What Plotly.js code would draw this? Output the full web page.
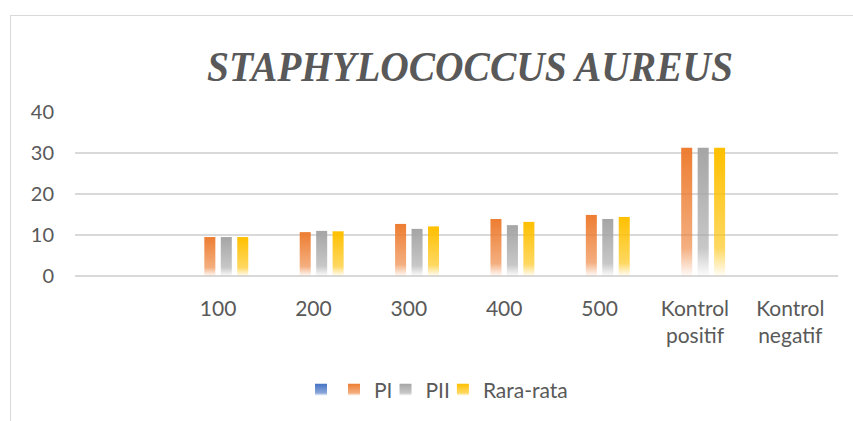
<!DOCTYPE html>
<html>
<head>
<meta charset="utf-8">
<script src="https://cdn.plot.ly/plotly-3.0.1.min.js"></script>
<style>
  html, body { margin: 0; padding: 0; background: #ffffff; }
  #wrap { position: relative; width: 853px; height: 421px; overflow: hidden; }
  #frame { position: absolute; left: 10px; top: 15px; width: 1000px; height: 600px;
           border-left: 1.5px solid #d9d9d9; border-top: 1.5px solid #d9d9d9; }
  #chart { position: absolute; left: 0; top: 0; width: 853px; height: 421px; }
</style>
</head>
<body>
<div id="wrap">
  <div id="frame"></div>
  <div id="chart"></div>
</div>
<script>
// ---- data ----
const categories = [' ', '100', '200', '300', '400', '500', 'Kontrol<br>positif', 'Kontrol<br>negatif'];
const seriesBlue = [0, 0, 0, 0, 0, 0, 0, 0];
const seriesPI   = [0, 9.5, 10.7, 12.7, 13.9, 14.9, 31.3, 0];
const seriesPII  = [0, 9.5, 11.0, 11.5, 12.4, 13.9, 31.3, 0];
const seriesRata = [0, 9.5, 10.9, 12.1, 13.2, 14.4, 31.3, 0];
const seriesNames = ['', 'PI', 'PII', 'Rara-rata'];
const yTicks = [0, 10, 20, 30, 40];
const chartTitle = 'STAPHYLOCOCCUS AUREUS';

// ---- styling ----
const colors = ['#4472C4', '#ED7D31', '#A5A5A5', '#FFC000'];
const textColor = '#595959';
const gridColor = '#d9d9d9';
const titleFamily = 'Liberation Serif';
const titleTargetWidth = 526;

const allSeries = [seriesBlue, seriesPI, seriesPII, seriesRata];
const traces = allSeries.map((vals, i) => ({
  type: 'bar',
  x: categories,
  y: vals,
  name: seriesNames[i],
  marker: { color: colors[i], line: { width: 0 } },
  hoverinfo: 'skip'
}));

const layout = {
  width: 853,
  height: 421,
  paper_bgcolor: 'rgba(0,0,0,0)',
  plot_bgcolor: 'rgba(0,0,0,0)',
  margin: { l: 75, r: 15, t: 112, b: 145 },
  barmode: 'group',
  bargap: 0.31,
  bargroupgap: 0.33,
  title: {
    text: chartTitle,
    font: { family: titleFamily, size: 42, color: textColor, weight: 'bold', style: 'italic' },
    x: 470 / 853, xref: 'container', xanchor: 'center',
    y: 1 - 66 / 421, yref: 'container', yanchor: 'middle'
  },
  xaxis: {
    type: 'category',
    showgrid: false,
    showline: false,
    zeroline: false,
    ticks: '',
    ticklabelstandoff: 18,
    tickfont: { family: 'Lato, "Open Sans", sans-serif', size: 21, color: textColor },
    fixedrange: true
  },
  yaxis: {
    range: [0, 40],
    tickvals: yTicks,
    ticktext: yTicks.map(String),
    showgrid: true,
    gridcolor: gridColor,
    gridwidth: 1.3,
    zeroline: true,
    zerolinecolor: gridColor,
    zerolinewidth: 1.6,
    showline: false,
    ticks: '',
    ticklabelstandoff: 20,
    tickfont: { family: 'Lato, "Open Sans", sans-serif', size: 20, color: textColor },
    fixedrange: true
  },
  showlegend: true,
  legend: {
    orientation: 'h',
    x: 443 / 853, xref: 'container', xanchor: 'center',
    y: 1 - 390 / 421, yref: 'container', yanchor: 'middle',
    itemgap: 0,
    indentation: -12,
    traceorder: 'normal',
    font: { family: 'Lato, "Open Sans", sans-serif', size: 21, color: textColor }
  }
};

function addGradients(gd) {
  const svg = gd.querySelector('svg.main-svg');
  const NS = 'http://www.w3.org/2000/svg';
  let defs = svg.querySelector('defs');
  if (!defs) { defs = document.createElementNS(NS, 'defs'); svg.insertBefore(defs, svg.firstChild); }
  colors.forEach((c, i) => {
    const lg = document.createElementNS(NS, 'linearGradient');
    lg.setAttribute('id', 'barGrad' + i);
    lg.setAttribute('x1', '0'); lg.setAttribute('y1', '0');
    lg.setAttribute('x2', '0'); lg.setAttribute('y2', '1');
    [[0, 1], [0.78, 0.62], [1, 0.03]].forEach(([o, op]) => {
      const s = document.createElementNS(NS, 'stop');
      s.setAttribute('offset', String(o));
      s.setAttribute('stop-color', c);
      s.setAttribute('stop-opacity', String(op));
      lg.appendChild(s);
    });
    defs.appendChild(lg);
  });
  gd.querySelectorAll('.barlayer .trace').forEach((t, i) => {
    t.querySelectorAll('path').forEach(p => { p.style.fill = 'url(#barGrad' + i + ')'; p.style.fillOpacity = 1; });
  });
  gd.querySelectorAll('.legend .traces').forEach((t, i) => {
    t.querySelectorAll('.legendpoints path').forEach(p => { p.style.fill = 'url(#barGrad' + i + ')'; p.style.fillOpacity = 1; });
  });
  // make sure the title uses the serif face, then condense it like the reference
  const tt = gd.querySelector('.g-gtitle text');
  if (tt) {
    tt.style.fontFamily = "'" + titleFamily + "', serif";
    tt.style.fontWeight = 'bold';
    tt.style.fontStyle = 'italic';
    const bb = tt.getBBox();
    const s = titleTargetWidth / bb.width;
    const cx = bb.x + bb.width / 2;
    tt.setAttribute('transform', 'translate(' + cx + ',0) scale(' + s + ',1) translate(' + (-cx) + ',0)');
  }
}

Plotly.newPlot('chart', traces, layout, { staticPlot: true, displayModeBar: false })
  .then(addGradients);
</script>
</body>
</html>
